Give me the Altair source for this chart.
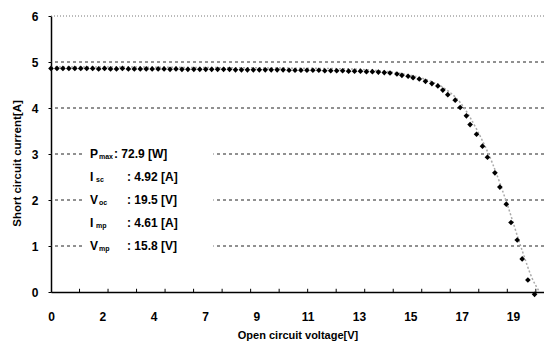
import altair as alt
import pandas as pd

# ---- measured I-V points ----
volts = [
    0.00, 0.24, 0.48, 0.72, 0.96, 1.20, 1.44, 1.68, 1.92, 2.16,
    2.40, 2.64, 2.88, 3.12, 3.36, 3.60, 3.84, 4.08, 4.32, 4.56,
    4.80, 5.04, 5.28, 5.52, 5.76, 6.00, 6.24, 6.48, 6.72, 6.96,
    7.20, 7.44, 7.68, 7.92, 8.16, 8.40, 8.64, 8.88, 9.12, 9.36,
    9.60, 9.84, 10.08, 10.32, 10.56, 10.80, 11.04, 11.28, 11.52, 11.76,
    12.00, 12.24, 12.48, 12.72, 12.96, 13.20, 13.44,
    13.67, 13.95, 14.15, 14.40, 14.60, 14.85, 15.10, 15.36, 15.60, 15.80,
    16.00, 16.30, 16.50, 16.75, 16.90, 17.16, 17.40, 17.60, 17.90, 18.10,
    18.36, 18.55, 18.80, 19.00, 19.23, 19.50,
]
amps = [
    4.86, 4.86, 4.86, 4.86, 4.86, 4.86, 4.86, 4.86, 4.85, 4.86,
    4.85, 4.85, 4.86, 4.85, 4.85, 4.85, 4.85, 4.85, 4.85, 4.85,
    4.84, 4.85, 4.84, 4.84, 4.84, 4.84, 4.84, 4.84, 4.84, 4.84,
    4.84, 4.83, 4.83, 4.83, 4.83, 4.83, 4.83, 4.83, 4.83, 4.83,
    4.82, 4.82, 4.82, 4.82, 4.82, 4.82, 4.81, 4.81, 4.81, 4.81,
    4.80, 4.80, 4.80, 4.79, 4.79, 4.78, 4.77,
    4.76, 4.74, 4.71, 4.69, 4.66, 4.63, 4.58, 4.53, 4.48, 4.39,
    4.29, 4.17, 4.01, 3.83, 3.64, 3.43, 3.17, 2.93, 2.59, 2.28,
    1.91, 1.51, 1.13, 0.72, 0.26, -0.05,
]

# ---- light grey reference curve ----
model_v = [0.0, 3.0, 6.0, 9.0, 12.0, 13.0, 14.0, 15.0, 15.8, 16.5, 17.2, 17.8, 18.4, 19.0, 19.4, 19.7]
model_i = [4.89, 4.89, 4.88, 4.87, 4.85, 4.82, 4.76, 4.64, 4.45, 4.12, 3.50, 2.80, 1.90, 0.90, 0.30, 0.00]

# ---- axes ----
y_ticks = [0, 1, 2, 3, 4, 5, 6]
x_label_pos = [0.0, 2.07, 4.14, 6.21, 8.28, 10.35, 12.42, 14.49, 16.56, 18.63]
x_labels = ["0", "2", "4", "7", "9", "11", "13", "15", "17", "19"]
minor_ticks = [1.15, 2.30, 3.45, 4.60, 5.75, 6.90, 8.05, 9.20, 10.35, 11.50,
               12.65, 13.80, 14.95, 16.10, 17.25, 18.40, 19.55]

# ---- annotation ----
ann_main = ["P", "I", "V", "I", "V"]
ann_sub = ["max", "sc", "oc", "mp", "mp"]
ann_val = [": 72.9 [W]", ": 4.92 [A]", ": 19.5 [V]", ": 4.61 [A]", ": 15.8 [V]"]
ann_y = [3.0, 2.5, 2.0, 1.5, 1.0]

FONT = "Liberation Sans"
XMAX = 19.88

meas = pd.DataFrame({"v": volts, "i": amps})
model = pd.DataFrame({"v": model_v, "i": model_i})
grid = pd.DataFrame({"y": y_ticks[1:]})
minor = pd.DataFrame({"x": minor_ticks})
ann = pd.DataFrame({"main": ann_main, "sub": ann_sub, "val": ann_val, "y": ann_y})

xscale = alt.Scale(domain=[0, XMAX], nice=False, zero=False)
yscale = alt.Scale(domain=[0, 6], nice=False)

label_expr = "[" + ",".join("'%s'" % s for s in x_labels) + "][round(datum.value/2.07)]"

x_axis = alt.Axis(
    values=x_label_pos, labelExpr=label_expr, title="Open circuit voltage[V]",
    grid=False, ticks=False, domainColor="black", domainWidth=1.5,
    labelFont=FONT, labelFontSize=12, labelFontWeight="bold", labelColor="black",
    labelPadding=19, titleFont=FONT, titleFontSize=11, titleFontWeight="bold",
    titleColor="black", titlePadding=7, labelFlush=False,
)
y_axis = alt.Axis(
    values=y_ticks, title="Short circuit current[A]", grid=False,
    tickSize=3, tickColor="black", domainColor="black", domainWidth=1.5,
    labelFont=FONT, labelFontSize=12, labelFontWeight="bold", labelColor="black",
    labelPadding=10, titleFont=FONT, titleFontSize=11.5, titleFontWeight="bold",
    titleColor="black", titlePadding=9, titleY=147,
)

grid_dash = alt.Chart(grid).transform_filter("datum.y < 6").mark_rule(
    color="#222", strokeDash=[3, 3], strokeWidth=1
).encode(y=alt.Y("y:Q", scale=yscale, axis=y_axis))

grid_top = alt.Chart(grid).transform_filter("datum.y == 6").mark_rule(
    color="#777", strokeDash=[1, 2], strokeWidth=1
).encode(y=alt.Y("y:Q", scale=yscale))

# white background box behind the annotation text
box = alt.Chart(pd.DataFrame({"k": [0]})).mark_rect(fill="white", stroke=None).encode(
    x=alt.datum(1.33, scale=xscale), x2=alt.datum(6.55),
    y=alt.datum(3.33, scale=yscale), y2=alt.datum(0.83),
)

minor_rules = alt.Chart(minor).mark_rule(color="black", strokeWidth=1).encode(
    x=alt.X("x:Q", scale=xscale, axis=x_axis),
    y=alt.datum(0, scale=yscale), y2=alt.datum(0.07),
)

model_line = alt.Chart(model).mark_line(
    color="#aaa", strokeDash=[2, 2], strokeWidth=1.5, interpolate="monotone"
).encode(x=alt.X("v:Q", scale=xscale), y=alt.Y("i:Q", scale=yscale))

points = alt.Chart(meas).mark_point(
    shape="diamond", filled=True, color="black", size=32, opacity=1
).encode(x=alt.X("v:Q", scale=xscale), y=alt.Y("i:Q", scale=yscale))

txt_main = alt.Chart(ann).mark_text(
    align="left", baseline="middle", font=FONT, fontSize=12, fontWeight="bold", color="black"
).encode(x=alt.value(39), y=alt.Y("y:Q", scale=yscale), text="main:N")

txt_sub = alt.Chart(ann).transform_calculate(
    sx="datum.main == 'I' ? 45 : 48"
).mark_text(
    align="left", baseline="middle", font=FONT, fontSize=7, fontWeight="bold", color="black", dy=3
).encode(x=alt.X("sx:Q", scale=None), y=alt.Y("y:Q", scale=yscale), text="sub:N")

txt_val = alt.Chart(ann).transform_calculate(
    vx="datum.sub == 'max' ? 63 : 76"
).mark_text(
    align="left", baseline="middle", font=FONT, fontSize=12, fontWeight="bold", color="black"
).encode(x=alt.X("vx:Q", scale=None), y=alt.Y("y:Q", scale=yscale), text="val:N")

chart = alt.layer(
    grid_dash, grid_top, box, minor_rules, model_line, points, txt_main, txt_sub, txt_val
).properties(
    width=493, height=276,
    autosize=alt.AutoSizeParams(type="none"),
    padding={"left": 51, "top": 16, "right": 0, "bottom": 55},
    background="white",
).configure_view(stroke=None)

chart.save("out.html", embed_options={"renderer": "svg", "actions": False})
